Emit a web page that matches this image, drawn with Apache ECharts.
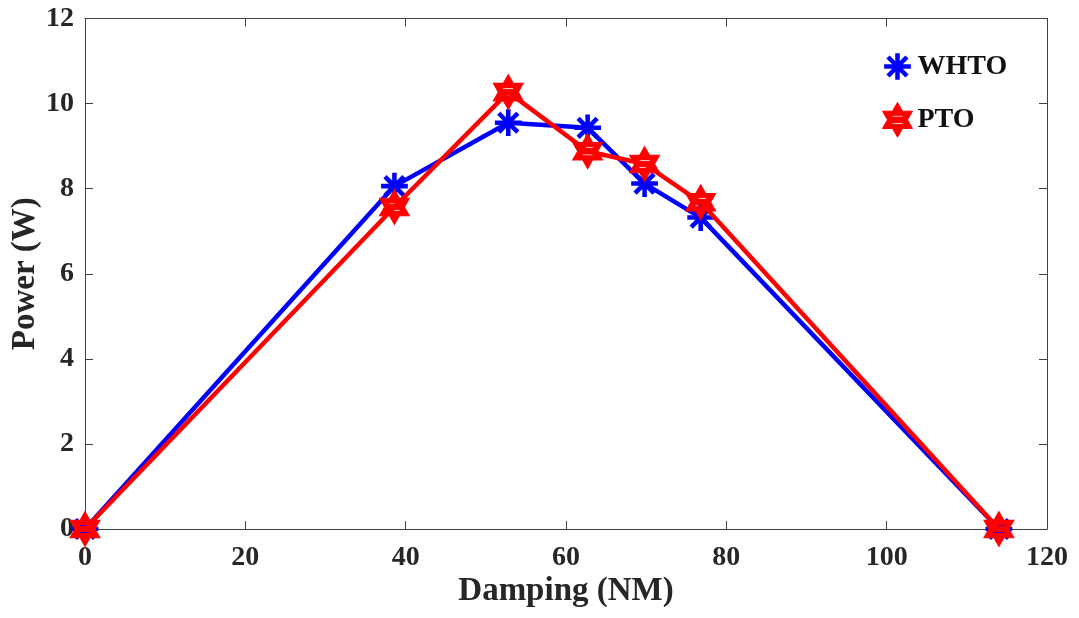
<!DOCTYPE html>
<html>
<head>
<meta charset="utf-8">
<script src="https://cdn.jsdelivr.net/npm/echarts@6/dist/echarts.min.js"></script>
<style>
html,body{margin:0;padding:0;background:#fff;}
#chart{width:1079px;height:618px;}
</style>
</head>
<body>
<div id="chart"></div>
<script>
// Data
const damping = [0, 38.6, 52.8, 62.7, 69.8, 76.8, 114.0];
const whto = [0, 8.06, 9.55, 9.43, 8.12, 7.32, 0];
const pto = [0, 7.57, 10.27, 8.88, 8.58, 7.68, 0];
const xTicks = [0, 20, 40, 60, 80, 100, 120];
const yTicks = [0, 2, 4, 6, 8, 10, 12];
const seriesNames = ['WHTO', 'PTO'];

const asterisk = 'path://M-11.2,-13.1 M11.2,13.1 ' +
  'M-1.7,-10 L1.7,-10 L1.7,10 L-1.7,10 Z ' +
  'M-10,-1.7 L10,-1.7 L10,1.7 L-10,1.7 Z ' +
  'M8.3,5.9 L5.9,8.3 L-8.3,-5.9 L-5.9,-8.3 Z ' +
  'M-5.9,8.3 L-8.3,5.9 L5.9,-8.3 L8.3,-5.9 Z';
// hexagram with two small white slits (holes) like the thick-lined MATLAB marker
const hexagram = 'path://M0,-10 L2.887,-5 L8.66,-5 L5.774,0 L8.66,5 L2.887,5 L0,10 L-2.887,5 L-8.66,5 L-5.774,0 L-8.66,-5 L-2.887,-5 Z ' +
  'M-3.2,-2.6 L-3.2,-1.6 L3.2,-1.6 L3.2,-2.6 Z ' +
  'M-3.2,1.6 L-3.2,2.6 L3.2,2.6 L3.2,1.6 Z';

const font = "'Liberation Serif', 'Times New Roman', serif";
const axisColor = '#404040';
const textColor = '#262626';
const tickLen = 8;

function pairs(xs, ys) { return xs.map((x, i) => [x, ys[i]]); }

const chart = echarts.init(document.getElementById('chart'), null, {renderer: 'canvas'});
chart.setOption({
  animation: false,
  backgroundColor: '#ffffff',
  grid: {left: 85, right: 32, top: 18.5, bottom: 89, containLabel: false, outerBoundsMode: 'none'},
  legend: {
    orient: 'vertical', left: 882, top: 49, padding: 0,
    itemWidth: 30, itemHeight: 35, itemGap: 18,
    textStyle: {fontFamily: font, fontWeight: 'bold', fontSize: 28, color: '#111'},
    data: [
      {name: seriesNames[0], icon: asterisk, itemStyle: {color: '#0000ff', borderWidth: 0}},
      {name: seriesNames[1], icon: hexagram, itemStyle: {color: '#ff0000', borderColor: '#ff0000', borderWidth: 1}}
    ]
  },
  xAxis: [{
    type: 'value', position: 'bottom', min: xTicks[0], max: xTicks[xTicks.length - 1], interval: 20,
    name: 'Damping (NM)', nameLocation: 'middle', nameGap: 46, nameMoveOverlap: false,
    nameTextStyle: {fontFamily: font, fontWeight: 'bold', fontSize: 33, color: textColor},
    axisLine: {show: true, onZero: false, lineStyle: {color: axisColor, width: 1}},
    axisTick: {show: true, inside: true, length: tickLen, lineStyle: {color: axisColor}},
    axisLabel: {fontFamily: font, fontWeight: 'bold', fontSize: 28, color: textColor, margin: 15},
    splitLine: {show: false}
  }, {
    type: 'value', position: 'top', min: xTicks[0], max: xTicks[xTicks.length - 1], interval: 20,
    axisLine: {show: true, onZero: false, lineStyle: {color: axisColor, width: 1}},
    axisTick: {show: true, inside: true, length: tickLen, lineStyle: {color: axisColor}},
    axisLabel: {show: false}, splitLine: {show: false}
  }],
  yAxis: [{
    type: 'value', position: 'left', min: yTicks[0], max: yTicks[yTicks.length - 1], interval: 2,
    name: 'Power (W)', nameLocation: 'middle', nameGap: 43, nameRotate: 90, nameMoveOverlap: false,
    nameTextStyle: {fontFamily: font, fontWeight: 'bold', fontSize: 33, color: textColor},
    axisLine: {show: true, onZero: false, lineStyle: {color: axisColor, width: 1}},
    axisTick: {show: true, inside: true, length: tickLen, lineStyle: {color: axisColor}},
    axisLabel: {fontFamily: font, fontWeight: 'bold', fontSize: 28, color: textColor, margin: 11},
    splitLine: {show: false}
  }, {
    type: 'value', position: 'right', min: yTicks[0], max: yTicks[yTicks.length - 1], interval: 2,
    axisLine: {show: true, onZero: false, lineStyle: {color: axisColor, width: 1}},
    axisTick: {show: true, inside: true, length: tickLen, lineStyle: {color: axisColor}},
    axisLabel: {show: false}, splitLine: {show: false}
  }],
  series: [{
    name: seriesNames[0], type: 'line', xAxisIndex: 0, yAxisIndex: 0,
    data: pairs(damping, whto),
    symbol: asterisk, symbolSize: [30, 35], showAllSymbol: true,
    lineStyle: {color: '#0000ff', width: 4.5},
    itemStyle: {color: '#0000ff', borderWidth: 0},
    z: 2
  }, {
    name: seriesNames[1], type: 'line', xAxisIndex: 0, yAxisIndex: 0,
    data: pairs(damping, pto),
    symbol: hexagram, symbolSize: [30, 35], showAllSymbol: true,
    lineStyle: {color: '#ff0000', width: 4.5},
    itemStyle: {color: '#ff0000', borderColor: '#ff0000', borderWidth: 1},
    z: 3
  }]
});
</script>
</body>
</html>
